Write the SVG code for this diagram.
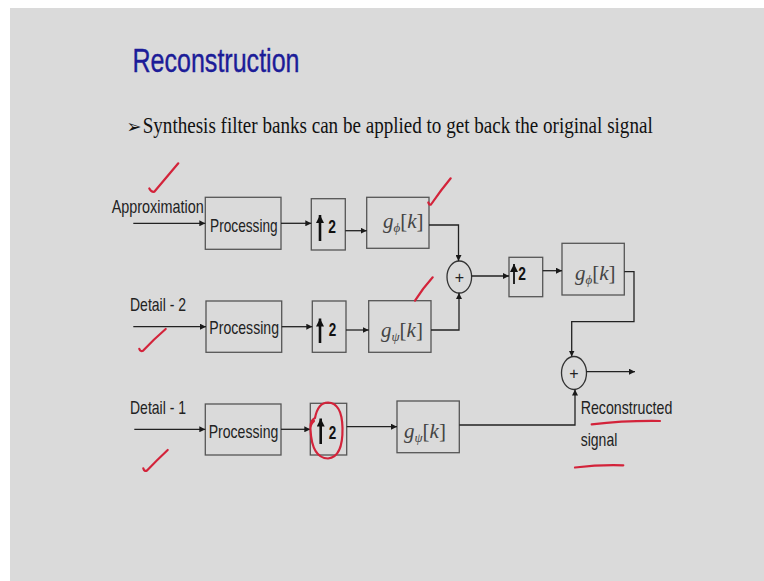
<svg xmlns="http://www.w3.org/2000/svg" width="764" height="581" viewBox="0 0 764 581">
<defs>
<marker id="ah" viewBox="0 0 10 10" refX="10" refY="5" markerWidth="6" markerHeight="6" orient="auto" markerUnits="userSpaceOnUse"><path d="M0,0 L10,5 L0,10 Z" fill="#1a1a1a"/></marker>
<marker id="up" viewBox="0 0 10 10" refX="10" refY="5" markerWidth="8" markerHeight="8" orient="auto" markerUnits="userSpaceOnUse"><path d="M0,0 L10,5 L0,10 Z" fill="#111"/></marker>
<style>
.box{fill:none;stroke:#555;stroke-width:1.3}
.ln{fill:none;stroke:#222;stroke-width:1.3}
.arr{marker-end:url(#ah)}
.lbl{font-family:"Liberation Sans",Arial,sans-serif;font-size:19px;fill:#222}
.two{font-family:"Liberation Sans",Arial,sans-serif;font-size:18px;font-weight:bold;fill:#111}
.uarr{stroke:#111;stroke-width:2.6;marker-end:url(#up)}
.g{font-family:"Liberation Serif","Times New Roman",serif;font-size:21px;fill:#444}
.red{fill:none;stroke:#d3233a;stroke-width:2.2;stroke-linecap:round;stroke-linejoin:round}
.sum{fill:none;stroke:#333;stroke-width:1.3}
</style>
</defs>
<rect x="0" y="0" width="764" height="581" fill="#ffffff"/>
<rect x="10" y="8" width="754" height="573" fill="#dadada"/>

<text x="132.5" y="72" font-family="Liberation Sans,Arial,sans-serif" font-size="34" fill="#1c1c98" stroke="#1c1c98" stroke-width="0.4" textLength="167" lengthAdjust="spacingAndGlyphs">Reconstruction</text>
<text x="126.5" y="133" font-family="DejaVu Sans,sans-serif" font-size="19" fill="#111" textLength="15" lengthAdjust="spacingAndGlyphs">➢</text>
<g transform="translate(142.7,132.7) scale(1,1.3)">
<text x="0" y="0" font-family="Liberation Serif,Times New Roman,serif" font-size="18.5" fill="#111" textLength="510" lengthAdjust="spacingAndGlyphs">Synthesis filter banks can be applied to get back the original signal</text>
</g>

<g id="labels">
<text class="lbl" x="111.7" y="212.5" textLength="92" lengthAdjust="spacingAndGlyphs">Approximation</text>
<text class="lbl" x="130" y="311" textLength="56" lengthAdjust="spacingAndGlyphs">Detail - 2</text>
<text class="lbl" x="130" y="413.5" textLength="56" lengthAdjust="spacingAndGlyphs">Detail - 1</text>
<text class="lbl" x="580.7" y="413.5" textLength="91.6" lengthAdjust="spacingAndGlyphs">Reconstructed</text>
<text class="lbl" x="580.7" y="446" textLength="36.6" lengthAdjust="spacingAndGlyphs">signal</text>
</g>

<g id="proc1"><rect class="box" x="205.3" y="197.3" width="75.7" height="52"/><text class="lbl" x="210" y="231.5" textLength="67.7" lengthAdjust="spacingAndGlyphs">Processing</text></g>
<g id="proc2"><rect class="box" x="206" y="301" width="75.7" height="51.3"/><text class="lbl" x="209.3" y="334.3" textLength="69.7" lengthAdjust="spacingAndGlyphs">Processing</text></g>
<g id="proc3"><rect class="box" x="205.3" y="404" width="75.7" height="51"/><text class="lbl" x="208.7" y="438.3" textLength="69.6" lengthAdjust="spacingAndGlyphs">Processing</text></g>

<g id="up1"><rect class="box" x="311.3" y="198.7" width="34" height="51.3"/><line class="uarr" x1="320" y1="241" x2="320" y2="215"/><text class="two" x="328.3" y="232.7" textLength="7.7" lengthAdjust="spacingAndGlyphs">2</text></g>
<g id="up2"><rect class="box" x="312.3" y="301" width="33.7" height="51.3"/><line class="uarr" x1="320" y1="343" x2="320" y2="318.5"/><text class="two" x="328.7" y="336" textLength="7.5" lengthAdjust="spacingAndGlyphs">2</text></g>
<g id="up3"><rect class="box" x="310.3" y="403.3" width="36.4" height="51.7"/><line class="uarr" x1="320.7" y1="444" x2="320.7" y2="418.5"/><text class="two" x="328.7" y="439" textLength="7.5" lengthAdjust="spacingAndGlyphs">2</text></g>
<g id="up4"><rect class="box" x="509" y="257.3" width="33.7" height="39.4"/><line class="uarr" x1="514" y1="284" x2="514" y2="264" style="stroke-width:1.8"/><text class="two" x="518.3" y="280" textLength="7.7" lengthAdjust="spacingAndGlyphs">2</text></g>

<g id="gphi1"><rect class="box" x="366.7" y="197.3" width="62.3" height="51"/><text class="g" x="383" y="227.5"><tspan font-style="italic">g</tspan><tspan font-style="italic" font-size="13" dy="4">ϕ</tspan><tspan dy="-4">[</tspan><tspan font-style="italic">k</tspan><tspan>]</tspan></text></g>
<g id="gpsi2"><rect class="box" x="368.7" y="300.7" width="62.3" height="51.6"/><text class="g" x="381" y="336.5"><tspan font-style="italic">g</tspan><tspan font-style="italic" font-size="13" dy="4">ψ</tspan><tspan dy="-4">[</tspan><tspan font-style="italic">k</tspan><tspan>]</tspan></text></g>
<g id="gpsi3"><rect class="box" x="397" y="401" width="62.3" height="51.7"/><text class="g" x="404" y="437.5"><tspan font-style="italic">g</tspan><tspan font-style="italic" font-size="13" dy="4">ψ</tspan><tspan dy="-4">[</tspan><tspan font-style="italic">k</tspan><tspan>]</tspan></text></g>
<g id="gphi4"><rect class="box" x="562" y="243.3" width="62.3" height="51.7"/><text class="g" x="575" y="279.5"><tspan font-style="italic">g</tspan><tspan font-style="italic" font-size="13" dy="4">ϕ</tspan><tspan dy="-4">[</tspan><tspan font-style="italic">k</tspan><tspan>]</tspan></text></g>

<g id="sum1"><ellipse class="sum" cx="459.3" cy="277" rx="12.3" ry="16"/><text x="459.3" y="282.5" text-anchor="middle" font-family="Liberation Sans,Arial,sans-serif" font-size="16" fill="#222">+</text></g>
<g id="sum2"><ellipse class="sum" cx="574" cy="373" rx="12.5" ry="16.5"/><text x="574" y="378.5" text-anchor="middle" font-family="Liberation Sans,Arial,sans-serif" font-size="16" fill="#222">+</text></g>

<g id="connectors">
<line class="ln arr" x1="133.3" y1="223.3" x2="205.3" y2="223.3"/>
<line class="ln arr" x1="281" y1="223.3" x2="311.3" y2="223.3"/>
<line class="ln arr" x1="345.3" y1="230.7" x2="366.7" y2="230.7"/>
<polyline class="ln arr" points="429,225 458.5,225 458.5,261"/>

<line class="ln arr" x1="133.3" y1="326.7" x2="206" y2="326.7"/>
<line class="ln arr" x1="281.7" y1="326.7" x2="312.3" y2="326.7"/>
<line class="ln arr" x1="346" y1="330" x2="368.7" y2="330"/>
<polyline class="ln arr" points="431,330 459,330 459,293"/>

<line class="ln arr" x1="134.3" y1="429.3" x2="205.3" y2="429.3"/>
<line class="ln arr" x1="281" y1="429.3" x2="310.3" y2="429.3"/>
<line class="ln arr" x1="346.7" y1="426.7" x2="397" y2="426.7"/>
<polyline class="ln arr" points="459.3,425 575,425 575,389.5"/>

<line class="ln arr" x1="471.6" y1="276" x2="509" y2="276"/>
<line class="ln arr" x1="542.7" y1="270.7" x2="562" y2="270.7"/>
<polyline class="ln arr" points="624.3,271.7 634,271.7 634,321.7 571.7,321.7 571.7,356.5"/>
<line class="ln arr" x1="586.5" y1="371.7" x2="635" y2="371.7"/>
</g>

<g id="annotations">
<path class="red" d="M149.3,188.5 Q151.5,192.5 154.3,191.8 Q166,178 178.3,163.3"/>
<path class="red" d="M428.3,202.5 Q429.5,205.5 431,204.5 Q441,190 450.7,178.3"/>
<path class="red" d="M415,300.7 Q423,288 432.7,277.3"/>
<path class="red" d="M139.3,348.8 Q140.5,352 143,350.8 Q154,339 165.7,329"/>
<path class="red" d="M143.3,468.3 Q144.5,472 147,470.5 Q157,460 167.7,450"/>
<path class="red" d="M310.5,426 Q311,420 315,418 Q318,402.5 328,402.5 Q342,403 342.5,428 Q343,457 328,458.5 Q312,458 310.5,430 Q310,424 314,421"/>
<path class="red" d="M591.7,424.3 Q625,420.5 660,421"/>
<path class="red" d="M575,467.5 Q600,464.5 623.3,465.3"/>
</g>
</svg>
